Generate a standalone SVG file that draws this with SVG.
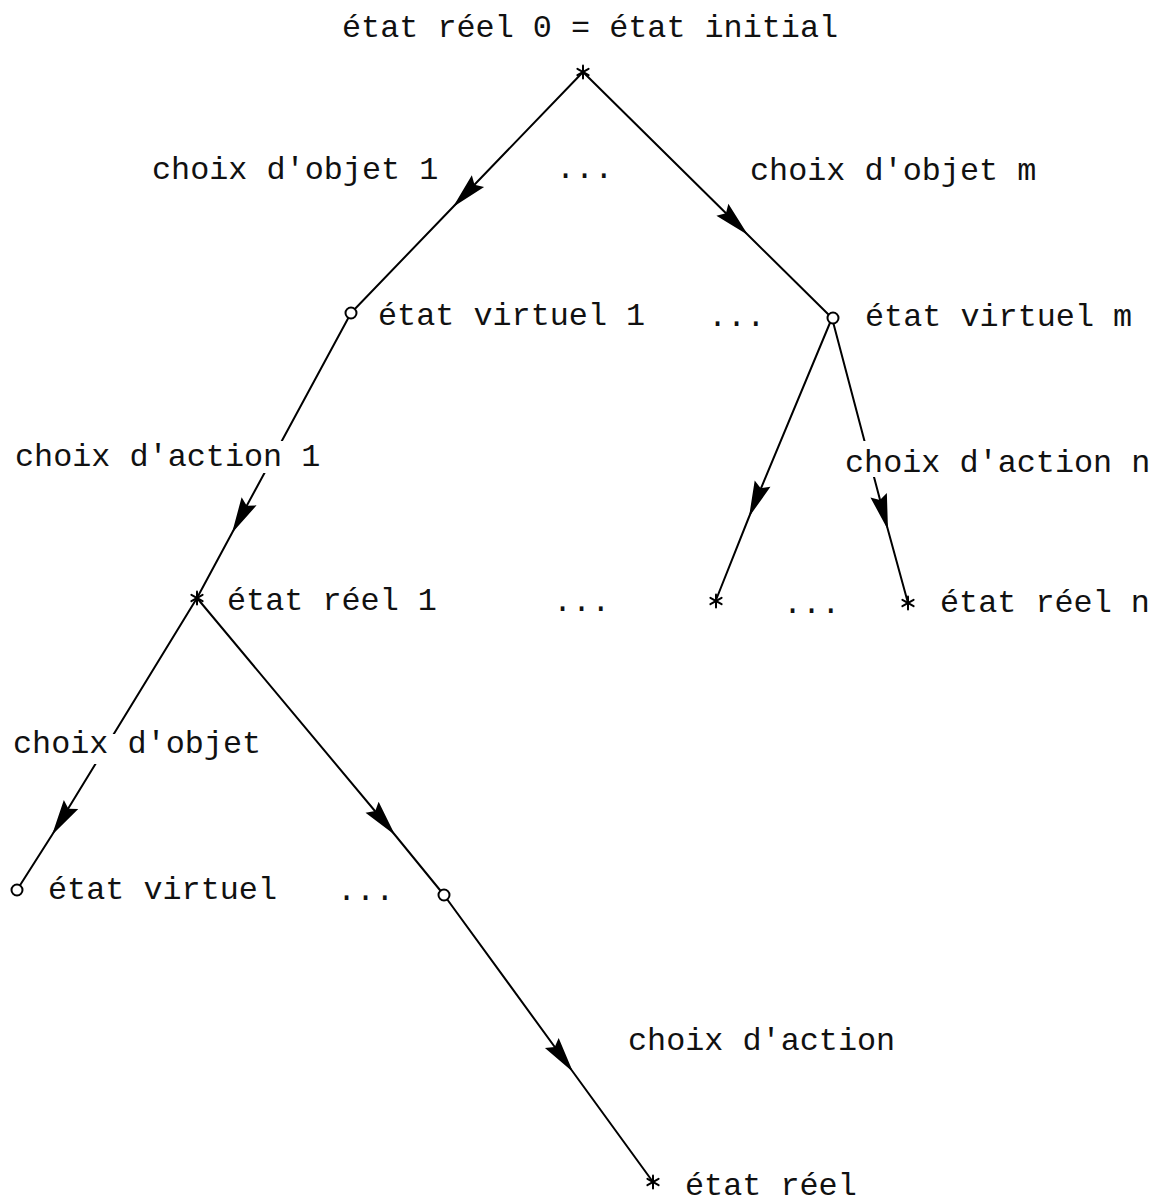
<svg xmlns="http://www.w3.org/2000/svg" xmlns:xlink="http://www.w3.org/1999/xlink" width="1161" height="1204" viewBox="0 0 1161 1204">
<style>
  text { font-family: "Liberation Mono", "Courier New", monospace; font-size: 31.8px; fill: #111; }
  .mask { fill: #fff; stroke: none; }
  .edge { fill: none; stroke: #000; stroke-width: 2; marker-mid: url(#arr); }
  .virt { fill: #fff; stroke: #000; stroke-width: 2; }
  .star line { stroke: #000; stroke-width: 2; stroke-linecap: round; }
</style>
<defs>
  <marker id="arr" markerUnits="userSpaceOnUse" viewBox="-38 -10 40 20" refX="0" refY="0" markerWidth="40" markerHeight="20" orient="auto">
    <path d="M0,0 L-36,-8.5 L-31,0 L-36,8.5 Z" fill="#000"/>
  </marker>
  <g id="ast" class="star">
    <line x1="0" y1="-6.5" x2="0" y2="6.5"/>
    <line x1="-5.6" y1="-3.2" x2="5.6" y2="3.2"/>
    <line x1="-5.6" y1="3.2" x2="5.6" y2="-3.2"/>
  </g>
</defs>
<rect width="1161" height="1204" fill="#fff"/>

<g id="connectors">
  <path class="edge" d="M583,72 L453,207 L351,313"/>
  <path class="edge" d="M583,72 L748,235 L832,318"/>
  <path class="edge" d="M351,313 L232,533 L197,598"/>
  <path class="edge" d="M832,318 L749,517 L716,600"/>
  <path class="edge" d="M832,318 L888,530 L908,603"/>
  <path class="edge" d="M197,598 L52,835 L17,890"/>
  <path class="edge" d="M197,598 L395,835 L444,895"/>
  <path class="edge" d="M444,895 L573,1072 L653,1182"/>
</g>

<g id="real0">
  <use xlink:href="#ast" href="#ast" x="583" y="72"/>
  <text x="342" y="37">état réel 0 = état initial</text>
</g>
<g id="label-objet1"><text x="152" y="179">choix d'objet 1</text></g>
<g id="dots1"><text x="556" y="178">...</text></g>
<g id="label-objetm"><text x="750" y="180">choix d'objet m</text></g>

<g id="virtuel1">
  <circle class="virt" cx="351" cy="313" r="5.5"/>
  <text x="378" y="325">état virtuel 1</text>
</g>
<g id="dots2"><text x="708" y="326">...</text></g>
<g id="virtuelm">
  <circle class="virt" cx="833" cy="318" r="5.5"/>
  <text x="865" y="326">état virtuel m</text>
</g>

<g id="label-action1">
  <rect class="mask" x="12" y="441" width="312" height="32"/>
  <text x="15" y="466">choix d'action 1</text>
</g>
<g id="label-actionn">
  <rect class="mask" x="842" y="441" width="312" height="36"/>
  <text x="845" y="472">choix d'action n</text>
</g>

<g id="reel1">
  <use xlink:href="#ast" href="#ast" x="197" y="598"/>
  <text x="227" y="610">état réel 1</text>
</g>
<g id="dots3"><text x="553" y="611">...</text></g>
<g id="reelx">
  <use xlink:href="#ast" href="#ast" x="716" y="601"/>
</g>
<g id="dots4"><text x="783" y="613">...</text></g>
<g id="reeln">
  <use xlink:href="#ast" href="#ast" x="908" y="603"/>
  <text x="940" y="612">état réel n</text>
</g>

<g id="label-objet">
  <rect class="mask" x="10" y="734" width="255" height="30"/>
  <text x="13" y="753">choix d'objet</text>
</g>

<g id="virtuel">
  <circle class="virt" cx="17" cy="890" r="5.5"/>
  <text x="48" y="899">état virtuel</text>
</g>
<g id="dots5"><text x="337" y="900">...</text></g>
<g id="virtuelx">
  <circle class="virt" cx="444" cy="895" r="5.5"/>
</g>

<g id="label-action"><text x="628" y="1050">choix d'action</text></g>
<g id="reel">
  <use xlink:href="#ast" href="#ast" x="653" y="1182"/>
  <text x="685" y="1195">état réel</text>
</g>
</svg>
